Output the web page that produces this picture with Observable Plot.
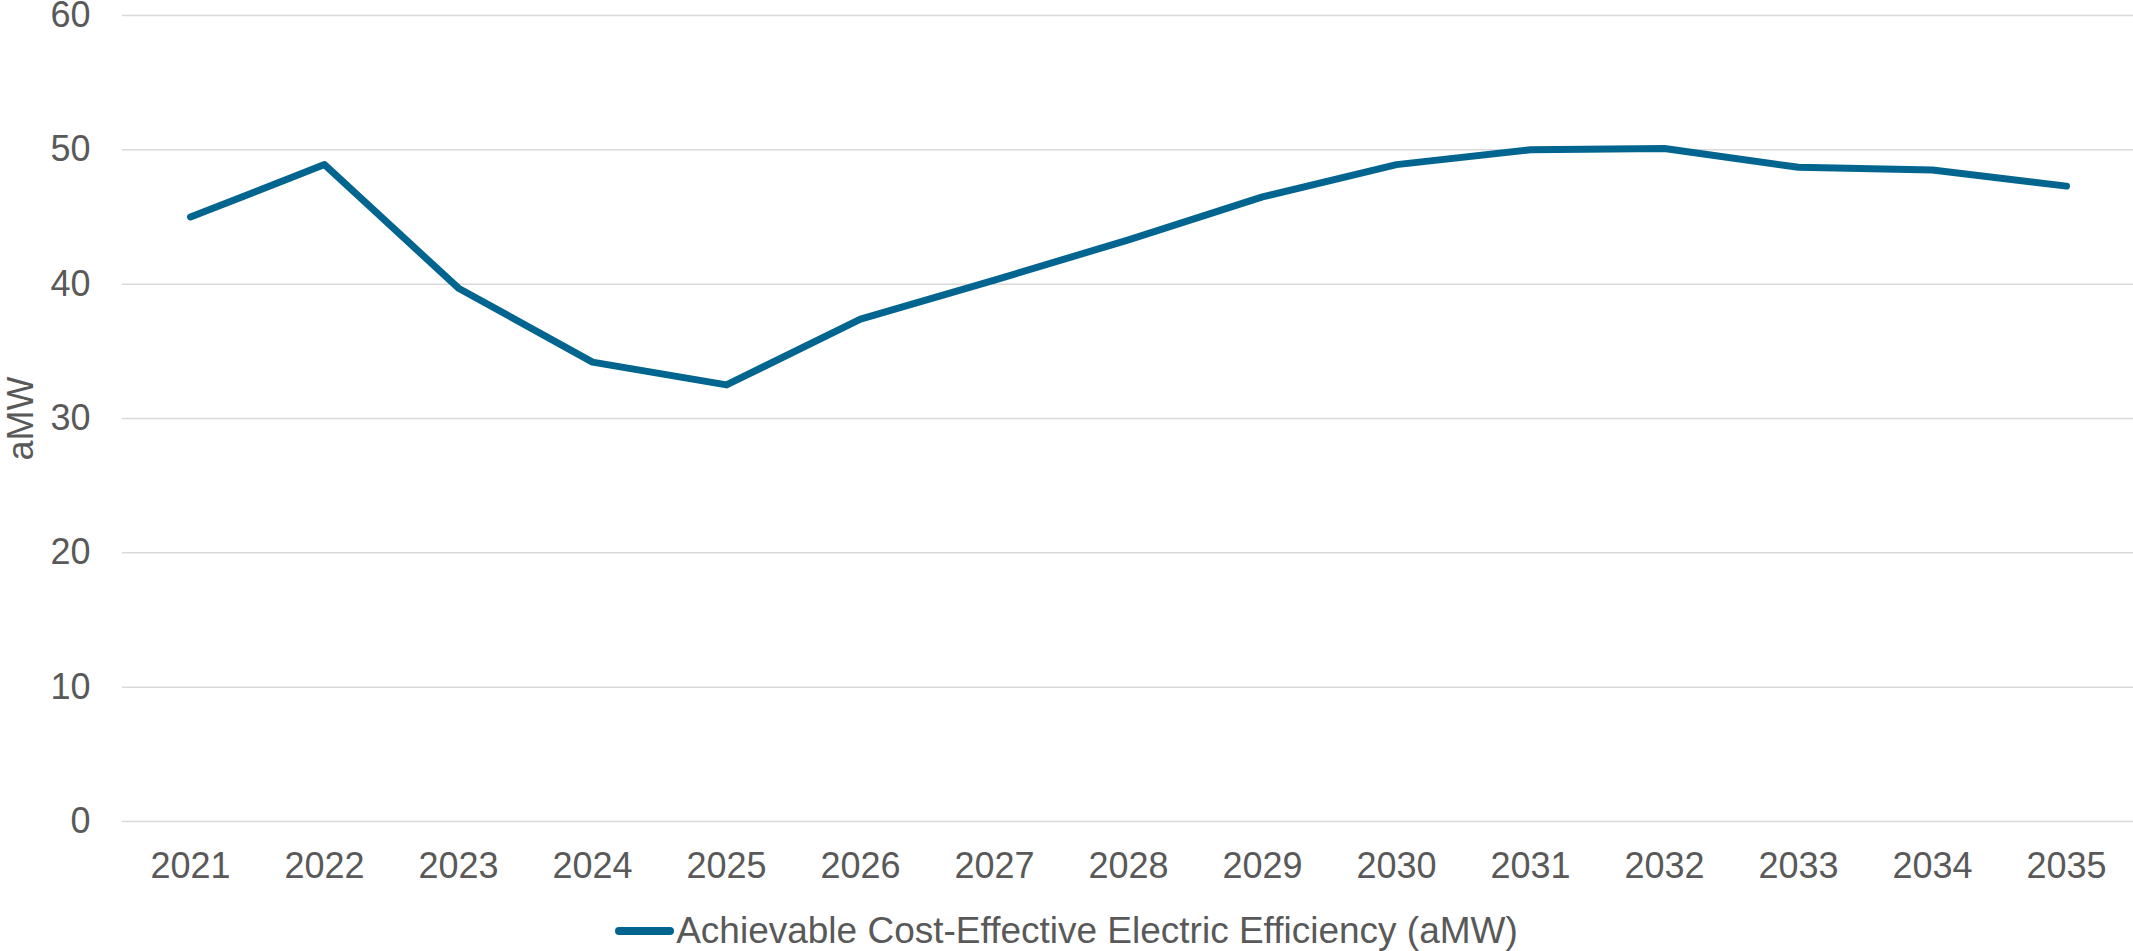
<!DOCTYPE html>
<html>
<head>
<meta charset="utf-8">
<script src="https://cdn.jsdelivr.net/npm/d3@7"></script>
<script src="https://cdn.jsdelivr.net/npm/@observablehq/plot@0.6"></script>
<style>
  html, body { margin: 0; padding: 0; background: #fff; overflow: hidden; }
  #chart svg { display: block; overflow: visible; }
  .legend { height: 72px; display: flex; justify-content: center; align-items: center;
            font-family: "Liberation Sans", Arial, sans-serif; font-size: 37px; color: #595959; }
  .legend .sw { width: 59px; height: 8px; border-radius: 4px; background: #02658F; margin-right: 2px; }
</style>
</head>
<body>
<div id="chart"></div>
<div class="legend"><span class="sw"></span><span id="legtext"></span></div>
<script>
const years = ["2021","2022","2023","2024","2025","2026","2027","2028","2029","2030","2031","2032","2033","2034","2035"];
const values = [45.0, 48.9, 39.7, 34.2, 32.5, 37.4, 40.3, 43.3, 46.5, 48.9, 50.0, 50.1, 48.7, 48.5, 47.3];
const yTicks = [0, 10, 20, 30, 40, 50, 60];
const seriesName = "Achievable Cost-Effective Electric Efficiency (aMW)";
const yLabel = "aMW";

document.getElementById("legtext").textContent = seriesName;

const data = years.map((y, i) => ({year: y, value: values[i]}));

const chart = Plot.plot({
  width: 2133,
  height: 895,
  marginTop: 15,
  marginBottom: 74,
  marginLeft: 122,
  marginRight: 0,
  style: {fontFamily: "'Liberation Sans', Arial, sans-serif", fontSize: "36px", color: "#595959", background: "#fff", overflow: "visible"},
  x: {type: "point", domain: years, padding: 0.5},
  y: {domain: [0, 60]},
  marks: [
    Plot.gridY(yTicks, {stroke: "#d9d9d9", strokeOpacity: 1, strokeWidth: 1.5}),
    Plot.axisY(yTicks, {tickSize: 0, tickPadding: 32, label: yLabel, labelArrow: "none", labelAnchor: "center", labelOffset: 115, fill: "#595959"}),
    Plot.axisX({tickSize: 0, tickPadding: 31, label: null, fill: "#595959"}),
    Plot.line(data, {x: "year", y: "value", stroke: "#02658F", strokeWidth: 7, strokeLinejoin: "round", strokeLinecap: "round"})
  ]
});
document.getElementById("chart").appendChild(chart);
</script>
</body>
</html>
